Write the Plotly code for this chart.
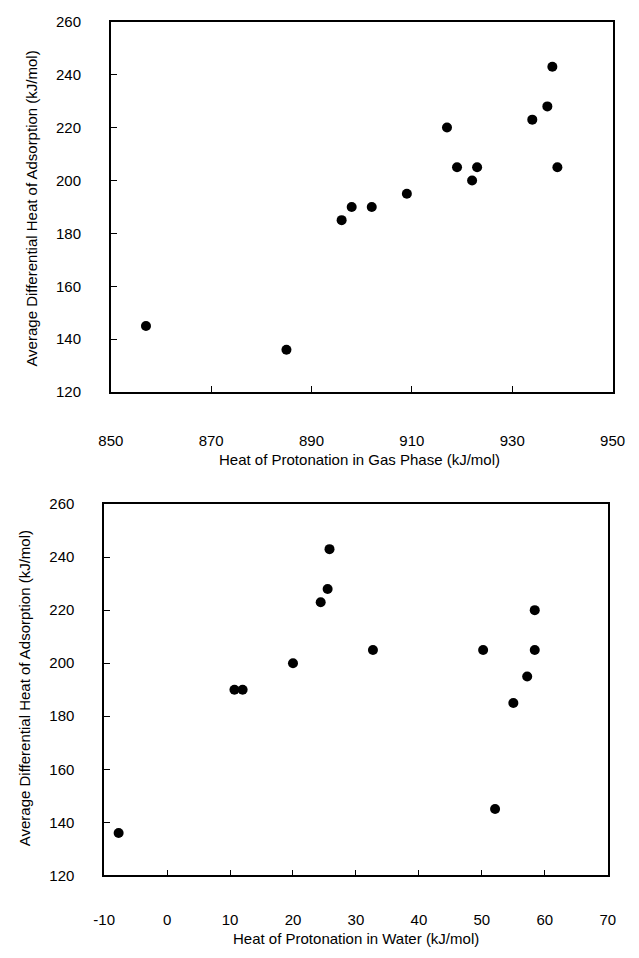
import plotly.graph_objects as go

# Top panel: heat of protonation in gas phase vs adsorption heat
gas_phase = [857, 885, 896, 898, 902, 909, 917, 919, 922, 923, 934, 937, 938, 939]
ads_gas = [145, 136, 185, 190, 190, 195, 220, 205, 200, 205, 223, 228, 243, 205]

# Bottom panel: heat of protonation in water vs adsorption heat
water = [-7.7, 10.7, 12.0, 20.0, 24.4, 25.5, 25.8, 32.7, 50.2, 52.1, 55.0, 57.2, 58.4, 58.4]
ads_water = [136, 190, 190, 200, 223, 228, 243, 205, 205, 145, 185, 195, 220, 205]

x1_ticks = [850, 870, 890, 910, 930, 950]
x2_ticks = [-10, 0, 10, 20, 30, 40, 50, 60, 70]
x2_labels = ["-10", "0", "10", "20", "30", "40", "50", "60", "70"]
y_ticks = [120, 140, 160, 180, 200, 220, 240, 260]

x1_title = "Heat of Protonation in Gas Phase (kJ/mol)"
x2_title = "Heat of Protonation in Water (kJ/mol)"
y_title = "Average Differential Heat of Adsorption (kJ/mol)"

W, H = 639, 958
FONT = "Liberation Sans, Arial, Helvetica, sans-serif"

def px(x):
    return x / W

def py(y):
    return 1 - y / H

fig = go.Figure()
marker = dict(color="black", size=10, line=dict(width=0))
fig.add_trace(go.Scatter(x=gas_phase, y=ads_gas, mode="markers", marker=marker,
                         xaxis="x", yaxis="y", showlegend=False))
fig.add_trace(go.Scatter(x=water, y=ads_water, mode="markers", marker=marker,
                         xaxis="x2", yaxis="y2", showlegend=False))

axis_common = dict(showline=True, linecolor="black", linewidth=1.6, mirror=True,
                   ticks="inside", ticklen=6, tickwidth=1, tickcolor="black",
                   showgrid=False, zeroline=False,
                   tickfont=dict(family=FONT, size=15, color="black"))

fig.update_layout(
    width=W, height=H,
    margin=dict(l=0, r=0, t=0, b=0),
    paper_bgcolor="white", plot_bgcolor="white",
    xaxis=dict(domain=[px(102), px(625)], range=[850, 950], tickvals=x1_ticks,
               anchor="y", ticklabelstandoff=34, **axis_common),
    yaxis=dict(domain=[py(390), py(13)], range=[120, 260], tickvals=y_ticks,
               anchor="x", ticklabelstandoff=25, **axis_common),
    xaxis2=dict(domain=[px(95), px(620)], range=[-10, 70], tickvals=x2_ticks,
                ticktext=x2_labels,
                anchor="y2", ticklabelstandoff=30, **axis_common),
    yaxis2=dict(domain=[py(882), py(504)], range=[120, 260], tickvals=y_ticks,
                anchor="x2", ticklabelstandoff=25, **axis_common),
)

title_font = dict(family=FONT, size=15, color="black")
fig.add_annotation(text=x1_title, x=px(361), y=py(459), xref="paper", yref="paper",
                   showarrow=False, font=title_font, xanchor="center", yanchor="middle")
fig.add_annotation(text=x2_title, x=px(358), y=py(946), xref="paper", yref="paper",
                   showarrow=False, font=title_font, xanchor="center", yanchor="middle")
fig.add_annotation(text=y_title, x=px(19), y=py(203), xref="paper", yref="paper",
                   showarrow=False, font=title_font, textangle=-90,
                   xanchor="center", yanchor="middle")
fig.add_annotation(text=y_title, x=px(12), y=py(692), xref="paper", yref="paper",
                   showarrow=False, font=title_font, textangle=-90,
                   xanchor="center", yanchor="middle")

fig.write_html("out.html")
